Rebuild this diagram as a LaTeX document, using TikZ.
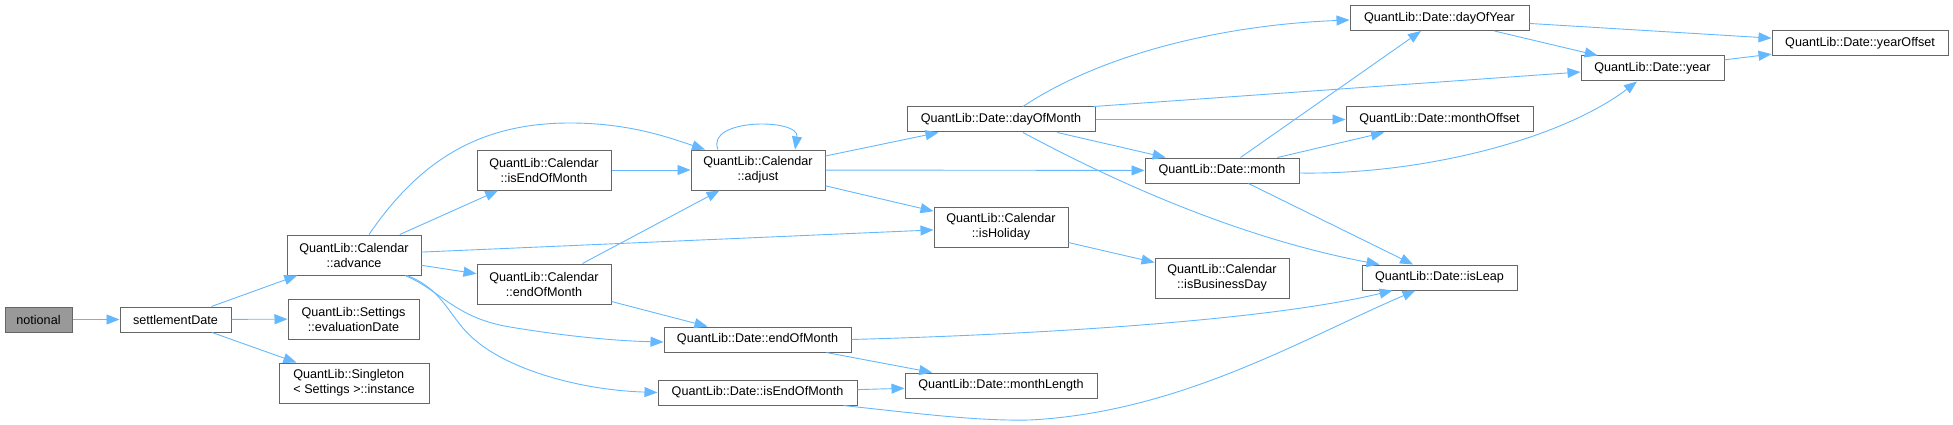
\documentclass[tikz,border=0pt]{standalone}
\usepackage{fontspec}
\setmainfont{Liberation Sans}
\usetikzlibrary{arrows.meta}

\definecolor{callblue}{HTML}{63B8FF}
\definecolor{boxgray}{HTML}{666666}
\definecolor{rootgray}{HTML}{999999}

\begin{document}
\begin{tikzpicture}[
        x = 1pt, y = -1pt,
        >= {Triangle[length = 13pt, width = 10pt]},
        fn/.style = {draw = boxgray, fill = white, line width = 1pt, inner sep = 0pt,
            minimum height = 25pt, align = center, font = \fontsize{12.6}{15}\selectfont},
        fn2/.style = {fn, minimum height = 40pt},
        call/.style = {color = callblue, line width = 0.9pt}
    ]
      \useasboundingbox (0,0) rectangle (1953,425);

      % callers and first level
      \node[fn, fill = rootgray, minimum width = 67pt] (notional) at (38.5,319.5) {notional};
      \node[fn, minimum width = 111pt] (settle) at (175.5,319.5) {settlementDate};
      \node[fn2, minimum width = 134pt] (advance) at (354,255) {QuantLib::Calendar\\::advance};
      \node[fn2, minimum width = 131pt] (evaldate) at (353.5,319) {QuantLib::Settings\\::evaluationDate};
      \node[fn2, minimum width = 150pt, align = left] (instance) at (354,383) {QuantLib::Singleton\\< Settings >::instance};

      % calendar functions
      \node[fn2, minimum width = 134pt] (calisendom) at (544,170) {QuantLib::Calendar\\::isEndOfMonth};
      \node[fn2, minimum width = 134pt] (calendom) at (544,284) {QuantLib::Calendar\\::endOfMonth};
      \node[fn2, minimum width = 134pt] (adjust) at (758,170) {QuantLib::Calendar\\::adjust};
      \node[fn2, minimum width = 134pt] (isholiday) at (1001,227) {QuantLib::Calendar\\::isHoliday};
      \node[fn2, minimum width = 134pt] (isbizday) at (1222,278) {QuantLib::Calendar\\::isBusinessDay};

      % date functions
      \node[fn, minimum width = 188pt] (dayofmonth) at (1001,119.5) {QuantLib::Date::dayOfMonth};
      \node[fn, minimum width = 187pt] (endofmonth) at (757.5,339.5) {QuantLib::Date::endOfMonth};
      \node[fn, minimum width = 199pt] (isendofmonth) at (757.5,392.5) {QuantLib::Date::isEndOfMonth};
      \node[fn, minimum width = 192pt] (monthlength) at (1001,385.5) {QuantLib::Date::monthLength};
      \node[fn, minimum width = 179pt] (dayofyear) at (1439.5,18) {QuantLib::Date::dayOfYear};
      \node[fn, minimum width = 187pt] (monthoffset) at (1439.5,119.5) {QuantLib::Date::monthOffset};
      \node[fn, minimum width = 154pt] (month) at (1222,170.5) {QuantLib::Date::month};
      \node[fn, minimum width = 155pt] (isleap) at (1439.5,277.5) {QuantLib::Date::isLeap};
      \node[fn, minimum width = 143pt] (year) at (1652.5,68.5) {QuantLib::Date::year};
      \node[fn, minimum width = 176pt] (yearoffset) at (1860,43.5) {QuantLib::Date::yearOffset};

      \path[call, ->]
        (notional) edge (settle)
        (settle) edge (advance)
        (settle) edge (evaldate)
        (settle) edge (instance)
        (advance) edge (calisendom)
        (advance) edge (isholiday)
        (advance) edge (calendom)
        (calisendom) edge (adjust)
        (calendom) edge (adjust)
        (calendom) edge (endofmonth)
        (adjust) edge (dayofmonth)
        (adjust) edge (month)
        (adjust) edge (isholiday)
        (dayofmonth) edge (monthoffset)
        (dayofmonth) edge (month)
        (isholiday) edge (isbizday)
        (endofmonth) edge (monthlength)
        (isendofmonth) edge (monthlength)
        (month) edge (dayofyear)
        (month) edge (monthoffset)
        (month) edge (isleap)
        (dayofyear) edge (yearoffset)
        (dayofyear) edge (year)
        (year) edge (yearoffset);

      % curved calls
      \draw[call, ->] ([xshift = 15pt]advance.north) .. controls (420,160) and (480,123) .. (570,123)
        .. controls (630,123) and (670,138) .. ([xshift = -53pt]adjust.north);
      \draw[call, ->] ([xshift = 51pt]advance.south) .. controls (440,290) and (455,318) .. (510,327)
        .. controls (570,337) and (620,341) .. ([yshift = -2.5pt]endofmonth.west);
      \draw[call, ->] ([xshift = 53pt]advance.south) .. controls (445,290) and (450,320) .. (475,340)
        .. controls (510,370) and (580,390) .. (isendofmonth.west);
      \draw[call, ->] ([xshift = -40pt]adjust.north) .. controls (705,118) and (800,118) .. ([xshift = 37pt]adjust.north);
      \draw[call, ->] ([xshift = 22pt]dayofmonth.north) .. controls (1100,55) and (1220,25) .. ([yshift = -2pt]dayofyear.west);
      \draw[call, ->] ([xshift = -2pt]dayofmonth.north east) -- ([yshift = -3.5pt]year.west);
      \draw[call, ->] ([xshift = 22pt]dayofmonth.south) .. controls (1130,190) and (1250,240) .. ([xshift = -60pt]isleap.north);
      \draw[call, ->] (endofmonth.east) .. controls (1050,334) and (1270,320) .. ([xshift = -47pt]isleap.south);
      \draw[call, ->] ([xshift = 86pt]isendofmonth.south) .. controls (930,415) and (980,421) .. (1030,420)
        .. controls (1180,412) and (1300,340) .. ([xshift = -24pt]isleap.south);
      \draw[call, ->] ([yshift = -2.5pt]month.east) .. controls (1420,175) and (1560,140) .. ([xshift = -15.5pt]year.south);
    \end{tikzpicture}
\end{document}
